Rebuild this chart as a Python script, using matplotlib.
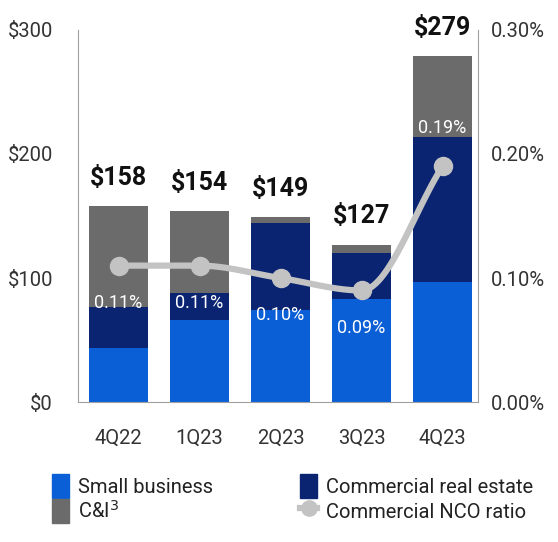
import numpy as np
import matplotlib.pyplot as plt
from matplotlib.patches import Patch
from matplotlib.lines import Line2D

plt.rcParams['font.family'] = ['Roboto', 'DejaVu Sans']

quarters = ["4Q22", "1Q23", "2Q23", "3Q23", "4Q23"]
small_business = [44, 66, 74, 83, 97]
commercial_re = [33, 22, 70, 37, 117]
c_and_i = [81, 66, 5, 7, 65]
totals = [158, 154, 149, 127, 279]
nco_ratio = [0.11, 0.11, 0.10, 0.09, 0.19]

c_sb = "#0b5fd6"
c_cre = "#0a2472"
c_ci = "#6b6b6b"
c_line = "#c3c3c3"
txt = "#333333"

fig = plt.figure(figsize=(5.58, 5.42), dpi=100)
ax = fig.add_axes([0.14, 0.258, 0.717, 0.687])
x = np.arange(len(quarters))
w = 0.73

sb = np.array(small_business)
cre = np.array(commercial_re)
ci = np.array(c_and_i)
ax.bar(x, sb, w, color=c_sb, zorder=2)
ax.bar(x, cre, w, bottom=sb, color=c_cre, zorder=2)
ax.bar(x, ci, w, bottom=sb + cre, color=c_ci, zorder=2)

for xi, t in zip(x, totals):
    ax.text(xi, t + 13, f"${t}", ha="center", va="bottom", fontsize=18,
            fontweight="bold", color="#111111")

ax.set_xlim(-0.5, 4.44)
ax.set_ylim(0, 300)
ax.set_yticks([0, 100, 200, 300])
ax.set_yticklabels(["$0", "$100", "$200", "$300"])
ax.set_xticks(x)
ax.set_xticklabels(quarters)
ax.tick_params(length=0, labelsize=14.5, colors=txt)
ax.tick_params(axis="x", pad=19)
ax.tick_params(axis="y", pad=18)
for s in ["top", "right"]:
    ax.spines[s].set_visible(False)
ax.spines["bottom"].set_color("#a0a0a0")
ax.spines["left"].set_color("#a0a0a0")

ax2 = ax.twinx()
ax2.set_ylim(0, 0.30)
ax2.set_yticks([0, 0.10, 0.20, 0.30])
ax2.set_yticklabels(["0.00%", "0.10%", "0.20%", "0.30%"])
ax2.tick_params(length=0, labelsize=14.5, colors=txt, pad=9)
for s in ["top", "left", "bottom"]:
    ax2.spines[s].set_visible(False)
ax2.spines["right"].set_color("#a0a0a0")

# monotone cubic curve through the ratio points
r = np.array(nco_ratio)
d = np.diff(r)
m = np.zeros_like(r)
m[0], m[-1] = d[0], d[-1]
for i in range(1, len(r) - 1):
    if d[i-1] * d[i] > 0:
        m[i] = 2 / (1 / d[i-1] + 1 / d[i])
xs, ys = [], []
for i in range(len(x) - 1):
    t = np.linspace(0, 1, 30)
    h00 = 2*t**3 - 3*t**2 + 1
    h10 = t**3 - 2*t**2 + t
    h01 = -2*t**3 + 3*t**2
    h11 = t**3 - t**2
    xs.extend(x[i] + t)
    ys.extend(h00*r[i] + h10*m[i] + h01*r[i+1] + h11*m[i+1])
ax2.plot(xs, ys, color=c_line, lw=4.5, solid_capstyle="round", zorder=3)
ax2.plot(x, r, "o", color=c_line, ms=13, zorder=4)

for i, (xi, v) in enumerate(zip(x, nco_ratio)):
    dy = 0.031 if i == len(x) - 1 else -0.03
    ax2.text(xi, v + dy, f"{v:.2f}%", ha="center", va="center", fontsize=13,
             color="white", zorder=5)

# legend in two separate columns
leg_kw = dict(frameon=False, fontsize=14.5, handlelength=0.85, handleheight=1.45,
              labelspacing=0.05, handletextpad=0.45, borderpad=0,
              borderaxespad=0, loc="upper left", labelcolor="#222222")
fig.legend([Patch(color=c_sb), Patch(color=c_ci)],
           ["Small business", "C&I$^3$"],
           bbox_to_anchor=(52 / 558, 1 - 474 / 542), **leg_kw)
fig.legend([Patch(color=c_cre),
            Line2D([], [], color=c_line, lw=4.5, marker="o", ms=11)],
           ["Commercial real estate", "Commercial NCO ratio"],
           bbox_to_anchor=(300 / 558, 1 - 474 / 542), **leg_kw)

fig.savefig("out.png", dpi=100)
